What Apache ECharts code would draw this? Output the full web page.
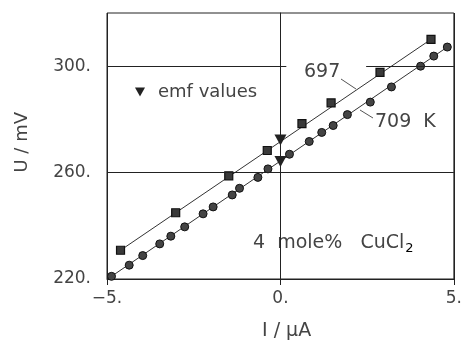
<!DOCTYPE html>
<html>
<head>
<meta charset="utf-8">
<script src="https://cdn.jsdelivr.net/npm/echarts@6/dist/echarts.min.js"></script>
<style>
  html, body { margin: 0; padding: 0; background: #fff; }
  #chart { width: 465px; height: 344px; }
</style>
</head>
<body>
<div id="chart"></div>
<script>
// ---- data ----
const xTicks = [-5, 0, 5];
const yTicks = [220, 260, 300];

// 697 K series (squares): [I / µA, U / mV]
const series697 = [
  [-4.61, 230.8], [-3.02, 244.9], [-1.49, 258.8], [-0.38, 268.3],
  [0.62, 278.4], [1.46, 286.2], [2.87, 297.7], [4.34, 310.1]
];
// 709 K series (circles)
const series709 = [
  [-4.87, 221.0], [-4.36, 225.2], [-3.97, 228.8], [-3.48, 233.2],
  [-3.16, 236.1], [-2.76, 239.6], [-2.23, 244.5], [-1.94, 247.1],
  [-1.39, 251.6], [-1.18, 254.1], [-0.65, 258.2], [-0.36, 261.4],
  [0.26, 266.9], [0.83, 271.7], [1.19, 275.1], [1.52, 277.7],
  [1.93, 281.8], [2.59, 286.5], [3.20, 292.2], [4.04, 300.0],
  [4.42, 303.8], [4.81, 307.2]
];
// straight fitted lines
const fit697 = [[-4.61, 230.8], [4.34, 310.1]];
const fit709 = [[-4.87, 221.0], [4.81, 307.2]];
// emf values (zero current)
const emfValues = [[0, 272.3], [0, 264.2]];

const FONT = 'DejaVu Sans';
const TXT = '#444';
const INK = '#222';
const triPath = 'path://M0,0 L10,0 L5,9 Z';

const chart = echarts.init(document.getElementById('chart'), null, { renderer: 'canvas' });

const option = {
  animation: false,
  backgroundColor: '#fff',
  grid: {
    left: 107, right: 9, top: 13, bottom: 65,
    show: true, borderColor: INK, borderWidth: 1, backgroundColor: 'transparent'
  },
  legend: {
    data: ['emf values'],
    left: 130, top: 78,
    icon: triPath,
    itemWidth: 10, itemHeight: 9,
    textStyle: { fontFamily: FONT, fontSize: 18, color: TXT, padding: [0, 0, 0, 8] }
  },
  xAxis: {
    type: 'value', min: -5, max: 5, interval: 5,
    axisLine: { show: true, lineStyle: { color: INK, width: 1 } },
    axisTick: { show: true, length: 6, lineStyle: { color: INK } },
    axisLabel: {
      fontFamily: FONT, fontSize: 17, color: TXT, margin: 11,
      formatter: v => (v < 0 ? '\u2212' : '') + Math.abs(v) + '.'
    },
    splitLine: { show: true, lineStyle: { color: INK, width: 1 } }
  },
  yAxis: {
    type: 'value', min: 220, max: 320, interval: 40,
    axisLine: { show: true, lineStyle: { color: INK, width: 1 } },
    axisTick: { show: true, length: 7, customValues: yTicks, lineStyle: { color: INK } },
    axisLabel: {
      fontFamily: FONT, fontSize: 17, color: TXT, margin: 16,
      customValues: yTicks,
      formatter: v => v + '.'
    },
    splitLine: { show: false }
  },
  graphic: [
    { type: 'text', left: 13, top: 112, rotation: Math.PI / 2, originX: 0, originY: 0,
      style: { text: 'U / mV', font: '18px "' + FONT + '"', fill: TXT } },
    { type: 'text', left: 262, top: 322,
      style: { text: 'I / \u00b5A', font: '19px "' + FONT + '"', fill: TXT } },
    { type: 'text', left: 304, top: 63,
      style: { text: '697', font: '19px "' + FONT + '"', fill: TXT } },
    { type: 'line', shape: { x1: 341, y1: 79, x2: 356, y2: 89 }, style: { stroke: '#555', lineWidth: 1 } },
    { type: 'text', left: 375, top: 113,
      style: { text: '709  K', font: '19px "' + FONT + '"', fill: TXT } },
    { type: 'line', shape: { x1: 360, y1: 110, x2: 373, y2: 118 }, style: { stroke: '#555', lineWidth: 1 } },
    { type: 'text', left: 253, top: 234,
      style: {
        text: '{a|4  mole%   CuCl}{s|2}',
        rich: {
          a: { fontFamily: FONT, fontSize: 19, fill: TXT, color: TXT },
          s: { fontFamily: FONT, fontSize: 13, color: TXT, padding: [10, 0, 0, 1] }
        }
      } }
  ],
  series: [
    {
      name: 'grid', type: 'line', data: [], silent: true,
      markLine: {
        silent: true, symbol: ['none', 'none'], label: { show: false },
        lineStyle: { color: INK, width: 1, type: 'solid' },
        data: [
          [{ coord: [-5, yTicks[1]] }, { coord: [5, yTicks[1]] }],
          [{ coord: [-5, yTicks[2]] }, { coord: [0.17, yTicks[2]] }],
          [{ coord: [2.47, yTicks[2]] }, { coord: [5, yTicks[2]] }]
        ]
      }
    },
    {
      name: 'fit697', type: 'line', data: fit697, showSymbol: false, silent: true,
      lineStyle: { color: '#333', width: 1 }, z: 3
    },
    {
      name: 'fit709', type: 'line', data: fit709, showSymbol: false, silent: true,
      lineStyle: { color: '#333', width: 1 }, z: 3
    },
    {
      name: '697 K', type: 'scatter', data: series697,
      symbol: 'rect', symbolSize: 8,
      itemStyle: { color: '#3a3a3a', borderColor: '#111', borderWidth: 1.2, opacity: 1 }, z: 4
    },
    {
      name: '709 K', type: 'scatter', data: series709,
      symbol: 'circle', symbolSize: 8,
      itemStyle: { color: '#444', borderColor: '#111', borderWidth: 1, opacity: 1 }, z: 4
    },
    {
      name: 'emf values', type: 'scatter', data: emfValues,
      symbol: triPath, symbolSize: [12, 11],
      itemStyle: { color: '#222', opacity: 1 }, z: 5
    }
  ]
};
chart.setOption(option);
</script>
</body>
</html>
